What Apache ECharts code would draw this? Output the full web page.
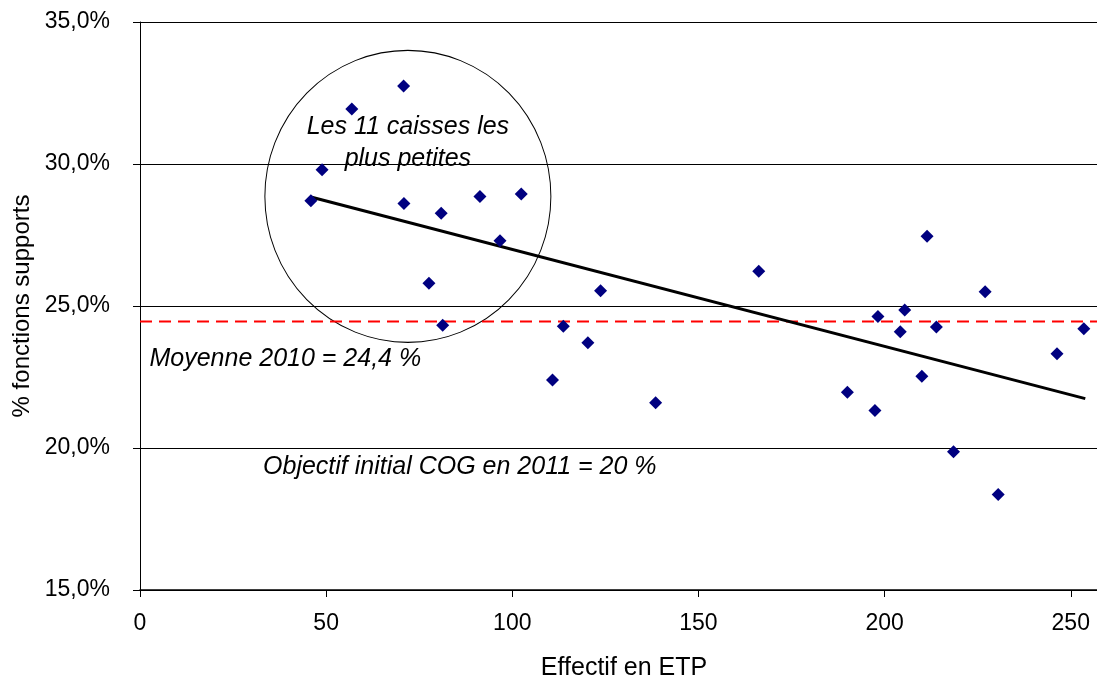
<!DOCTYPE html>
<html>
<head>
<meta charset="utf-8">
<script src="https://cdn.jsdelivr.net/npm/echarts@6/dist/echarts.min.js"></script>
<style>
  html, body { margin: 0; padding: 0; background: #fff; }
  #chart { width: 1097px; height: 682px; }
</style>
</head>
<body>
<div id="chart"></div>
<script>
// effectif (ETP) and % fonctions supports
const etp = [70.8, 56.9, 48.9, 45.9, 70.9, 80.9, 91.3, 102.4, 96.7, 77.6, 81.3,
  123.7, 113.7, 120.3, 110.8, 138.5, 166.2, 190.0, 197.4, 198.2, 204.2, 205.4,
  211.4, 210.0, 213.9, 218.5, 227.0, 230.5, 246.3, 253.5];
const pct = [32.75, 31.94, 29.80, 28.71, 28.61, 28.27, 28.86, 28.94, 27.30, 25.80, 24.32,
  25.54, 24.29, 23.71, 22.39, 21.59, 26.22, 21.96, 21.32, 24.63, 24.09, 24.86,
  27.46, 22.53, 24.26, 19.87, 25.50, 18.36, 23.32, 24.20];

// linear trend end points
const trendX = [45.9, 253.9];
const trendY = [28.84, 21.74];

const moyenne = 24.45;
const smallCircle = [71.95, 28.86];

const notes = [
  { x: 2.4, y: 23.12, text: 'Moyenne 2010 = 24,4 %', pos: 'right' },
  { x: 85.9, y: 19.32, text: 'Objectif initial COG en 2011 = 20 %', pos: 'inside' }
];

const font = 'Liberation Sans, Arial, sans-serif';
const xMax = 260; // plot runs past the right edge of the picture
let points = etp.map((x, i) => [x, pct[i]]);
let trend = trendX.map((x, i) => [x, trendY[i]]);

let myChart = echarts.init(document.getElementById('chart'));
myChart.setOption({
  animation: false,
  grid: { left: 140, right: -11, top: 22, bottom: 92, outerBoundsMode: 'none' },
  xAxis: {
    type: 'value',
    min: 0,
    max: xMax,
    interval: 50,
    name: 'Effectif en ETP',
    nameLocation: 'middle',
    nameGap: 66,
    nameTextStyle: { fontFamily: font, fontSize: 25, color: '#000' },
    axisLine: { lineStyle: { color: '#000', width: 1.5 } },
    axisTick: { show: true, length: 7, lineStyle: { color: '#000' } },
    axisLabel: { fontFamily: font, fontSize: 23, color: '#000', margin: 22, showMaxLabel: false },
    splitLine: { show: false }
  },
  yAxis: {
    type: 'value',
    min: 15,
    max: 35,
    interval: 5,
    name: '% fonctions supports',
    nameLocation: 'middle',
    nameGap: 94,
    nameTextStyle: { fontFamily: font, fontSize: 24, color: '#000' },
    axisLine: { show: true, lineStyle: { color: '#000', width: 1 } },
    axisTick: { show: true, length: 7, lineStyle: { color: '#000' } },
    axisLabel: {
      fontFamily: font, fontSize: 23, color: '#000', margin: 30,
      formatter: v => v.toFixed(1).replace('.', ',') + '%'
    },
    splitLine: { show: true, lineStyle: { color: '#000', width: 1 } }
  },
  series: [
    {
      name: 'moyenne',
      type: 'line',
      data: [[0, moyenne], [xMax, moyenne]],
      symbol: 'none',
      lineStyle: { color: '#ff0000', width: 2, type: [12, 7] },
      z: 2
    },
    {
      name: 'tendance',
      type: 'line',
      data: trend,
      symbol: 'none',
      lineStyle: { color: '#000', width: 3 },
      z: 3
    },
    {
      name: 'cercle',
      type: 'scatter',
      data: [smallCircle],
      symbol: 'circle',
      symbolSize: [286, 292],
      itemStyle: { color: 'rgba(0,0,0,0)', borderColor: '#000', borderWidth: 1, opacity: 1 },
      label: {
        show: true,
        position: 'inside',
        offset: [0, -53],
        formatter: 'Les 11 caisses les\nplus petites',
        fontFamily: font,
        fontStyle: 'italic',
        fontSize: 25,
        lineHeight: 32,
        color: '#000'
      },
      silent: true,
      z: 1
    },
    {
      name: 'notes',
      type: 'scatter',
      data: notes.map(n => ({
        value: [n.x, n.y],
        label: { position: n.pos, formatter: n.text }
      })),
      symbolSize: 1,
      itemStyle: { color: 'rgba(0,0,0,0)', opacity: 1 },
      label: {
        show: true,
        distance: 0,
        fontFamily: font,
        fontStyle: 'italic',
        fontSize: 25,
        color: '#000'
      },
      silent: true
    },
    {
      name: 'caisses',
      type: 'scatter',
      data: points,
      symbol: 'diamond',
      symbolSize: 13,
      itemStyle: { color: '#000080', opacity: 1 },
      z: 4
    }
  ]
});
</script>
</body>
</html>
